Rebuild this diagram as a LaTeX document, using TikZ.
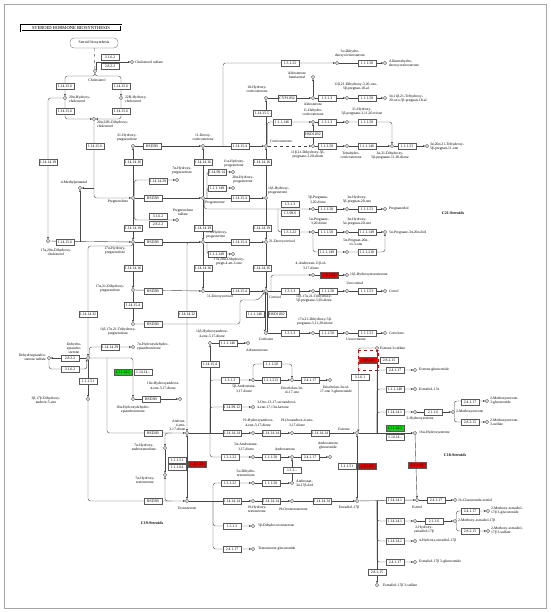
\documentclass[tikz,border=0pt]{standalone}
\usepackage{fontspec}
\setmainfont{Liberation Serif}
\usetikzlibrary{arrows.meta}
\definecolor{kred}{RGB}{225,0,0}
\definecolor{kgreen}{RGB}{0,215,0}
\definecolor{kline}{RGB}{70,70,70}
\pgfdeclarelayer{bg}
\pgfsetlayers{bg,main}
\newcounter{ecn}\newcounter{lbn}
\newcommand\ecb[3][]{\stepcounter{ecn}\node[ec,#1] (E\theecn) at (#2) {#3};}
\newcommand\cp[2]{\node[cpd] (#1) at (#2) {};}
\newcommand\lab[3][]{\stepcounter{lbn}\node[lb,#1] (L\thelbn) at (#2) {#3};}
\begin{document}
\begin{tikzpicture}[x=1pt,y=-1pt,line width=0.25pt,
 ec/.style={draw=black!65,fill=white,line width=0.25pt,inner sep=0.2pt,minimum width=17.5pt,minimum height=5.8pt,font=\fontsize{3.8}{4}\selectfont},
 cpd/.style={circle,draw=black!80,fill=white,minimum size=3.3pt,inner sep=0pt,line width=0.3pt},
 lb/.style={font=\fontsize{3.7}{4.1}\selectfont,inner sep=0pt,align=center},
 arr/.style={draw=kline,-{Stealth[length=2.4pt,width=2.2pt]}},
 darr/.style={draw=kline,{Stealth[length=2.4pt,width=2.2pt]}-{Stealth[length=2.4pt,width=2.2pt]}},
 rc/.style={rounded corners=2.5pt},
 cls/.style={font=\bfseries\fontsize{4}{4.3}\selectfont,inner sep=0pt}]
\useasboundingbox (0,0) rectangle (550,612);
\draw[gray!70,line width=0.6pt] (4,4) rectangle (546,608);
\node[draw,double,double distance=0.8pt,line width=0.35pt,inner sep=1.5pt,minimum width=100pt,font=\fontsize{4.6}{5}\selectfont] (title) at (71,28) {STEROID HORMONE BIOSYNTHESIS};
\node[draw=black!70,rounded corners=4pt,minimum width=48pt,minimum height=10pt,inner sep=0.5pt,font=\fontsize{3.8}{4}\selectfont] (sb) at (94,43) {Steroid biosynthesis};

% ---- cholesterol
\cp{chol}{95,71} \lab{97,80}{Cholesterol}
\ecb{110,57}{3.1.6.2} \ecb{110,66}{2.8.2.2}
\cp{chsul}{132,62} \lab[anchor=west]{135,62}{Cholesterol sulfate}
\ecb{65,86}{1.14.15.6} \ecb{121,86}{1.14.15.6}
\cp{ch20a}{65,98} \lab[anchor=west,align=left]{69,99}{20α-Hydroxy-\\cholesterol}
\cp{ch22r}{121,98} \lab[anchor=west,align=left]{125,99}{22R-Hydroxy-\\cholesterol}
\ecb{65,111}{1.14.15.6} \ecb{121,111}{1.14.15.6}
\cp{ch2022}{94,119} \lab[anchor=west,align=left]{97,124}{20α,22R-Dihydroxy-\\cholesterol}
\ecb{95,146}{1.14.15.6}
\ecb{48,162}{1.14.14.19}
\cp{ch1720}{48,241} \lab{56,252}{17α,20α-Dihydroxy-\\cholesterol}
\ecb{65,242}{1.14.15.6}
\cp{mpent}{80,188} \lab{74,183}{4-Methylpentanal}

% ---- pregnenolone column
\cp{preg}{133,198} \lab{118,202}{Pregnenolone}
\cp{h21preg}{133,146} \lab{127,138}{21-Hydroxy-\\pregnenolone}
\ecb{133,162}{1.14.14.16}
\ecb{152,146}{HSD3B}
\cp{doc}{203,146} \lab{203,137}{11-Deoxy-\\corticosterone}
\ecb{158,181}{1.14.14.29} \cp{h7apreg}{177,180} \lab{182,171}{7α-Hydroxy-\\pregnenolone}
\ecb{158,216}{3.1.6.2} \ecb{158,224}{2.8.2.2}
\cp{pregs}{177,220} \lab{183,212}{Pregnenolone\\sulfate}
\ecb{153,198}{HSD3B}
\cp{prog}{203,198} \lab{215,203}{Progesterone}
\ecb{133,228}{1.14.14.19}
\cp{h17preg}{133,242} \lab{115,251}{17α-Hydroxy-\\pregnenolone}
\ecb{153,242}{HSD3B}
\cp{h17prog}{203,242} \lab[anchor=west,align=left]{206,235}{17α-Hydroxy-\\progesterone}
\ecb{133,268}{1.14.14.16}
\cp{h1721preg}{133,290} \lab{110,289}{17α,21-Dihydroxy-\\pregnenolone}
\ecb{153,291}{HSD3B}
\cp{doxf}{203,291} \lab{220,297}{11-Deoxycortisol}
\ecb{133,305}{1.14.15.4}
\cp{h111721}{133,324} \lab{118,332}{11β,17α,21-Trihydroxy-\\pregnenolone}
\ecb{153,324}{HSD3B}

% ---- progesterone / corticoids
\ecb{203,162}{1.14.14.16} \ecb{203,228}{1.14.14.19} \ecb{203,268}{1.14.14.16}
\ecb{217,172}{1.14.99.14} \cp{h11aprog}{233,172} \lab{234,164}{11α-Hydroxy-\\progesterone}
\ecb{217,188}{1.1.1.149} \cp{h20aprog}{233,188} \lab{243,180}{20α-Hydroxy-\\progesterone}
\ecb{217,254}{1.1.1.149} \cp{h1720prog}{233,254} \lab{229,262}{17α,20α-Dihydroxy-\\pregn-4-en-3-one}
\ecb{240,146}{1.14.15.4} \cp{corticost}{266,146} \lab[anchor=west]{270,141}{Corticosterone}
\ecb{240,198}{1.14.15.4} \cp{h11bprog}{266,198} \lab[anchor=west,align=left]{268,191}{11β-Hydroxy-\\progesterone}
\ecb{262,162}{1.14.14.16} \ecb{262,228}{1.14.14.19}
\ecb{240,242}{1.14.15.4} \cp{d21cortisol}{266,242} \lab[anchor=west]{269,242}{21-Deoxycortisol}
\ecb{262,268}{1.14.14.16}
\ecb{240,291}{1.14.15.4} \cp{cortisol}{266,291} \lab[anchor=west]{269,297}{Cortisol}
\ecb{255,314}{1.1.1.146} \ecb{277,314}{HSD11B2}
\cp{cortisone}{266,333} \lab{266,339}{Cortisone}

% ---- top right corticoids
\ecb{262,113}{1.14.15.5} \cp{h18cort}{266,98} \lab{257,89}{18-Hydroxy-\\corticosterone}
\ecb{287,98}{CYP11B2} \cp{aldo}{313,98} \lab{313,104}{Aldosterone}
\cp{aldohemi}{313,77} \lab{297,75}{Aldosterone\\hemiacetal}
\ecb{327,98}{1.3.1.3} \cp{a5b}{347,98} \lab{356,87}{11β,21-Dihydroxy-3,20-oxo-\\5β-pregnan-18-al}
\ecb{367,98}{1.1.1.50} \cp{a3a}{385,98} \lab[anchor=west,align=left]{389,99}{3α,11β,21-Trihydroxy-\\20-oxo-5β-pregnan-18-al}
\ecb{282,122}{1.1.1.146} \cp{dhcort}{313,122} \lab{313,112}{11-Dehydro-\\corticosterone}
\ecb{313,134}{HSD11B2}
\ecb{327,122}{1.3.1.3} \cp{h21trione}{347,122} \lab{362,112}{21-Hydroxy-\\5β-pregnane-3,11,20-trione}
\ecb{367,122}{1.1.1.50}
\cp{c5bcort}{313,146} \lab{308,155}{11β,21-Dihydroxy-5β-\\pregnane-3,20-dione}
\ecb{327,146}{1.1.1.50} \cp{thb}{347,146} \lab{351,155}{Tetrahydro-\\corticosterone}
\ecb{367,146}{1.1.1.146} \cp{c3a21}{392,146} \lab{390,156}{3α,21-Dihydroxy-\\5β-pregnane-11,20-dione}
\ecb{407,146}{1.1.1.53} \cp{c3a20a}{427,146} \lab[anchor=west,align=left]{430,147}{3α,20α,21-Trihydroxy-\\5β-pregnan-11-one}
\ecb{290,63}{1.3.1.22} \cp{dhdoc}{337,63} \lab{350,54}{5α-Dihydro-\\deoxycorticosterone}
\ecb{367,63}{1.1.1.50} \cp{athdoc}{385,63} \lab[anchor=west,align=left]{389,64}{Allotetrahydro-\\deoxycorticosterone}

% ---- C21 right
\ecb{290,204.5}{1.3.1.3} \ecb{290,213.5}{1.3.99.6}
\cp{p5b}{313,209} \lab{318,200}{5β-Pregnane-\\3,20-dione}
\ecb{327,209}{1.1.1.50} \cp{p3a5b}{347,209} \lab{357,200}{3α-Hydroxy-\\5β-pregnan-20-one}
\ecb{367,209}{1.1.1.53} \cp{pregnanediol}{385,209} \lab[anchor=west]{389,209}{Pregnanediol}
\ecb{290,232}{1.3.1.22} \cp{p5a}{313,232} \lab{319,222}{5α-Pregnane-\\3,20-dione}
\ecb{327,232}{1.1.1.50} \cp{p3a5a}{347,232} \lab{357,222}{3α-Hydroxy-\\5α-pregnan-20-one}
\ecb{367,232}{1.1.1.149} \cp{p5adiol}{385,232} \lab[anchor=west]{389,233}{5α-Pregnane-3α,20α-diol}
\ecb{327,252}{1.1.1.149} \cp{p20a5a}{347,252} \lab{356,242}{5α-Pregnan-20α-\\ol-3-one}
\ecb{367,252}{1.1.1.210}
\cp{a11bol}{313,275} \lab{311,266}{4-Androsten-11β-ol-\\3,17-dione}
\ecb[fill=kred]{329,275}{1.1.1.62} \cp{t11boh}{347,275} \lab[anchor=west]{350,275}{11β-Hydroxytestosterone}
\ecb{290,291}{1.3.1.3} \cp{c5bF}{313,291} \lab{314,299}{11β,17α,21-Trihydroxy-\\5β-pregnane-3,20-dione}
\ecb{328,291}{1.1.1.50} \cp{urocortisol}{347,291} \lab{355,283}{Urocortisol}
\ecb{367,291}{1.1.1.53} \cp{cortol}{385,291} \lab[anchor=west]{389,291}{Cortol}
\ecb{290,333}{1.3.1.3} \cp{c5bE}{313,333} \lab{315,322}{17α,21-Dihydroxy-5β-\\pregnane-3,11,20-trione}
\ecb{328,333}{1.1.1.50} \cp{urocortisone}{347,333} \lab{356,339}{Urocortisone}
\ecb{367,333}{1.1.1.53} \cp{cortolone}{385,333} \lab[anchor=west]{389,333}{Cortolone}

% ---- C19
\ecb{187,314}{1.14.14.32}
\cp{andro}{187,433} \lab[anchor=south east,align=right]{185.5,431}{Androst-\\4-ene-\\3,17-dione}
\ecb{153,433}{HSD3B}
\ecb{88,314}{1.14.14.32}
\cp{dhea}{88,358} \lab{74,348}{Dehydro-\\epiandro-\\sterone}
\ecb{70,358}{2.8.2.2} \ecb{70,369}{3.1.6.2}
\cp{dheas}{49,358} \lab[anchor=east,align=right]{46,357}{Dehydroepiandro-\\sterone sulfate}
\ecb{110,347}{1.14.14.29} \cp{h7adhea}{133,347} \lab[anchor=west,align=left]{137,347}{7α-Hydroxydehydro-\\epiandrosterone}
\ecb[fill=kgreen]{123,372}{1.14.14.1} \ecb{143,372}{1.14.14.-}
\cp{h16adhea}{133,399} \lab{133,410}{16α-Hydroxydehydro-\\epiandrosterone}
\ecb{151,399}{HSD3B} \cp{h16aA4}{180,399} \lab{163,386}{16α-Hydroxyandrost-\\4-ene-3,17-dione}
\ecb{88,381}{1.1.1.51}
\cp{adiol}{88,399} \lab{46,400}{3β,17β-Dihydroxy-\\androst-5-ene}
\ecb{153,501}{HSD3B}
\cp{testo}{187,501} \lab{187,508}{Testosterone}
\cp{h7aA4}{165,448} \lab{144,447}{7α-Hydroxy-\\androstenedione}
\cp{h7aT}{165,475} \lab{145,480}{7α-Hydroxy-\\testosterone}
\ecb{177,460}{1.1.1.51} \ecb{177,467}{1.1.1.64} \ecb[fill=kred]{197,464}{1.1.1.62}
\cp{h11bA4}{210,343} \lab{212,334}{11β-Hydroxyandrost-\\4-ene-3,17-dione}
\ecb{210,364}{1.14.15.4}
\ecb{228,343}{1.1.1.146} \cp{adrenost}{248,343} \lab{257,350}{Adrenosterone}
\ecb{230,380}{1.3.1.3} \cp{a5bdione}{253,380} \lab{244,389}{5β-Androstane-\\3,17-dione}
\ecb{271,380}{1.1.1.213} \ecb{272,364}{1.1.1.50}
\cp{etio}{292,380} \lab{292,390}{Etiocholan-3α-\\ol-17-one}
\ecb{310,380}{2.4.1.17} \cp{etiogluc}{330,380} \lab{336,390}{Etiocholan-3α-ol-\\17-one 3-glucuronide}
\ecb{232,407}{1.14.99.12} \cp{testolac}{253,407} \lab[anchor=west,align=left]{257,405}{3-Oxo-13,17-secoandrost-\\4-ene-17,13α-lactone}
\ecb{232,433}{1.14.14.14} \cp{h19A4}{253,433} \lab{258,423}{19-Hydroxyandrost-\\4-ene-3,17-dione}
\ecb{271,433}{1.14.14.14} \cp{oxo19A4}{292,433} \lab{297,423}{19-Oxoandrost-4-ene-\\3,17-dione}
\ecb{320,433}{1.14.14.14} \cp{estrone}{357,433} \lab{344,429}{Estrone}
\ecb{230,457}{1.3.1.22} \cp{a5adione}{253,457} \lab{246,447}{5α-Androstane-\\3,17-dione}
\ecb{271,457}{1.1.1.50} \cp{andrst}{292,457} \lab{285,449}{Androsterone}
\ecb{310,457}{2.4.1.17} \cp{andrgluc}{330,457} \lab{328,446}{Androsterone\\glucuronide}
\ecb{230,483}{1.3.1.22} \cp{dht}{253,483} \lab{246,473}{5α-Dihydro-\\testosterone}
\ecb{271,483}{1.1.1.50} \cp{adiol3a}{292,483} \lab[anchor=west,align=left]{296,484}{Androstan-\\3α,17β-diol}
\ecb{292,470}{1.1.1.-}
\ecb{232,501}{1.14.14.14} \cp{h19T}{253,501} \lab{257,509}{19-Hydroxy-\\testosterone}
\ecb{271,501}{1.14.14.14} \cp{oxo19T}{292,501} \lab{293,509}{19-Oxotestosterone}
\ecb{322,501}{1.14.14.14} \cp{estradiol}{357,501} \lab{349,508}{Estradiol-17β}
\ecb{232,526}{1.3.1.3} \cp{h5bT}{253,526} \lab[anchor=west]{258,526}{5β-Dihydro-testosterone}
\ecb{232,549}{2.4.1.17} \cp{tgluc}{253,549} \lab[anchor=west]{258,549}{Testosterone glucuronide}

% ---- C18
\ecb{347,466}{1.1.1.51} \ecb[fill=kred]{367,466}{1.1.1.62}
\cp{e3s}{377,348} \lab[anchor=west]{380,348}{Estrone 3-sulfate}
\ecb[fill=kred]{368,360}{2.8.2.4} \ecb{389,360}{2.8.2.15} \ecb{360,377}{3.1.6.1}
\draw[kred,dashed,line width=0.7pt] (358.5,350) rectangle (378.5,370);
\ecb{395,370}{2.4.1.17} \cp{e1gluc}{415,370} \lab[anchor=west]{419,370}{Estrone glucuronide}
\ecb{395,389}{1.1.1.148} \cp{e2a}{415,389} \lab[anchor=west]{419,389}{Estradiol-17α}
\ecb{395,412}{1.14.14.1} \cp{oh2e1}{415,412} \lab{420,419}{2-Hydroxyestrone}
\ecb{433,412}{2.1.1.6} \cp{meo2e1}{453,412} \lab[anchor=west]{456,412}{2-Methoxyestrone}
\ecb{470,402}{2.4.1.17} \cp{meo2e1g}{487,401} \lab[anchor=west,align=left]{490,401}{2-Methoxyestrone-\\3-glucuronide}
\ecb{470,422}{2.8.2.15} \cp{meo2e1s}{487,422} \lab[anchor=west,align=left]{490,422}{2-Methoxyestrone-\\3-sulfate}
\ecb[fill=kgreen]{395,428}{1.14.14.1} \ecb{395,437}{1.14.14.-}
\cp{oh16e1}{415,433} \lab[anchor=west]{419,433}{16α-Hydroxyestrone}
\ecb[fill=kred]{417,465}{1.1.1.62}
\cp{estriol}{417,500} \lab{417,507}{Estriol}
\ecb{395,500}{1.14.14.1}
\ecb{436,500}{2.4.1.17} \cp{glucest}{455,500} \lab[anchor=west]{458,500}{16-Glucuronide-estriol}
\ecb{395,521}{1.14.14.1} \cp{oh2e2}{415,521} \lab{424,530}{2-Hydroxy-\\estradiol-17β}
\ecb{434,521}{2.1.1.6} \cp{meo2e2}{455,521} \lab[anchor=west]{458,521}{2-Methoxy-estradiol-17β}
\ecb{470,511}{2.4.1.17} \cp{meo2e2g}{488,511} \lab[anchor=west,align=left]{491,511}{2-Methoxy-estradiol-\\17β 3-glucuronide}
\ecb{470,531}{2.8.2.15} \cp{meo2e2s}{488,531} \lab[anchor=west,align=left]{491,531}{2-Methoxy-estradiol-\\17β 3-sulfate}
\ecb{395,541}{1.14.14.1} \cp{oh4e2}{415,541} \lab[anchor=west]{419,541}{4-Hydroxy-estradiol-17β}
\ecb{395,562}{2.4.1.17} \cp{e2gluc}{415,562} \lab[anchor=west]{419,562}{Estradiol-17β 3-glucuronide}
\ecb{377,572}{2.8.2.15} \cp{e2s}{377,585} \lab[anchor=west]{383,586}{Estradiol-17β 3-sulfate}

\node[cls] (c21) at (453,213) {C21-Steroids};
\node[cls] (c18) at (455,455) {C18-Steroids};
\node[cls] (c19) at (152,523) {C19-Steroids};

\begin{pgfonlayer}{bg}
\draw[dashed,draw=kline] (sb) -- (chol);
\draw[arr] (chol.north east) |- (chsul);
\draw[arr,rc] (chol.south) |- (65,76) -- (ch20a);
\draw[arr,rc] (chol.south) |- (121,76) -- (ch22r);
\draw[arr,rc] (ch20a) |- (ch2022);
\draw[arr,rc] (ch22r) |- (ch2022);
\draw[arr,rc] (ch20a) -| (ch1720);
\draw[arr,rc] (ch2022) |- (preg);
\draw[arr] (94,188) -- (mpent);
\draw[arr] (ch1720) -- (h17preg);
\draw[arr] (80,242) -- (mpent);
\draw[arr] (preg) -- (h21preg);
\draw[arr] (h21preg) -- (doc);
\draw[arr,rc] (preg.north east) |- (h7apreg);
\draw[arr,rc] (preg.south east) |- (pregs);
\draw[arr] (preg) -- (prog);
\draw[arr] (preg) -- (h17preg);
\draw[arr] (h17preg) -- (h17prog);
\draw[arr] (h17preg) -- (h1721preg);
\draw[arr] (h1721preg) -- (doxf);
\draw[arr] (h1721preg) -- (h111721);
\draw[arr,rc] (h111721) -- (240,324) |- (258,300) -- (cortisol.south west);
\draw[arr,rc] (h17preg.south) |- (88,246) -- (dhea);
\draw[arr] (prog) -- (doc);
\draw[arr] (prog) -- (h17prog);
\draw[arr] (h17prog) -- (doxf);
\draw[arr,rc] (207,198) |- (h11aprog);
\draw[arr,rc] (207,198) |- (h20aprog);
\draw[arr,rc] (207,242) |- (h1720prog);
\draw[arr] (doc) -- (corticost);
\draw[arr] (prog) -- (h11bprog);
\draw[arr] (h11bprog) -- (corticost);
\draw[arr] (h17prog) -- (d21cortisol);
\draw[arr] (h11bprog) -- (d21cortisol);
\draw[arr] (doxf) -- (cortisol);
\draw[arr] (d21cortisol) -- (cortisol);
\draw[arr] (cortisol.south west) -- (cortisone.north west);
\draw[arr] (cortisone.north east) -- (cortisol.south east);
\draw[arr] (corticost) -- (h18cort);
\draw[arr] (h18cort) -- (aldo);
\draw[arr] (aldo) -- (aldohemi);
\draw[arr] (aldo) -- (a5b);
\draw[arr] (a5b) -- (a3a);
\draw[arr,rc] (corticost.north east) |- (dhcort);
\draw[arr] (c5bcort) -- (dhcort);
\draw[arr] (dhcort) -- (h21trione);
\draw[arr,rc] (h21trione) -| (c3a21);
\draw[arr,dashed] (corticost) -- (c5bcort);
\draw[arr] (c5bcort) -- (thb);
\draw[arr] (thb) -- (c3a21);
\draw[arr] (c3a21) -- (c3a20a);
\draw[arr,rc] (223,146) |- (dhdoc);
\draw[arr] (dhdoc) -- (athdoc);
\draw[arr,rc] (prog.south east) |- (p5b);
\draw[arr] (p5b) -- (p3a5b);
\draw[arr] (p3a5b) -- (pregnanediol);
\draw[arr,rc] (278,209) |- (p5a);
\draw[arr] (p5a) -- (p3a5a);
\draw[arr] (p3a5a) -- (p5adiol);
\draw[arr,rc] (p5a) |- (p20a5a);
\draw[arr,rc] (p20a5a) -| (p5adiol);
\draw[arr] (cortisol) -- (c5bF);
\draw[arr] (c5bF) -- (urocortisol);
\draw[arr] (urocortisol) -- (cortol);
\draw[arr] (cortisone) -- (c5bE);
\draw[arr] (c5bE) -- (urocortisone);
\draw[arr] (urocortisone) -- (cortolone);
\draw[arr,rc] (271,291) |- (a11bol);
\draw[arr] (a11bol) -- (t11boh);
\draw[arr,rc] (h17prog) -| (andro);
% DHEA
\draw[arr] (dhea) -- (dheas);
\draw[arr,rc] (dheas) |- (86.9,369) -- (dhea.south west);
\draw[arr,rc] (dhea.north east) |- (h7adhea);
\draw[arr,rc] (dhea) -| (h16adhea);
\draw[arr,rc] (107,358) |- (andro);
\draw[arr] (h16adhea) -- (h16aA4);
\draw[arr] (dhea) -- (adiol);
\draw[arr,rc] (adiol) |- (testo);
\draw[darr] (andro) -- (testo);
\draw[arr,rc] (172,433) -| (h7aA4);
\draw[arr] (h7aA4) -- (h7aT);
\draw[arr,rc] (172,501) -| (h7aT);
\draw[arr] (210,433) -- (h11bA4);
\draw[arr,rc] (210,433) |- (a5bdione);
\draw[arr,rc] (210,433) |- (testolac);
\draw[arr,rc] (210,433) |- (a5adione);
\draw[arr] (h11bA4) -- (adrenost);
\draw[arr] (andro) -- (h19A4);
\draw[arr] (h19A4) -- (oxo19A4);
\draw[arr] (oxo19A4) -- (estrone);
\draw[arr] (a5adione) -- (andrst);
\draw[arr] (andrst) -- (andrgluc);
\draw[arr] (a5bdione) -- (etio);
\draw[arr] (etio) -- (etiogluc);
\draw[arr,rc] (a5bdione) |- (292,364) -- (etio);
\draw[arr,rc] (213,501) |- (dht);
\draw[arr,rc] (213,501) |- (h5bT);
\draw[arr,rc] (213,501) |- (tgluc);
\draw[arr] (testo) -- (h19T);
\draw[arr] (h19T) -- (oxo19T);
\draw[arr] (oxo19T) -- (estradiol);
\draw[arr] (dht) -- (adiol3a);
\draw[arr] (adiol3a) -- (andrst);
% estrogens
\draw[darr] (estrone) -- (estradiol);
\draw[arr] (estrone) -- (oh16e1);
\draw[arr] (377,433) -- (e3s);
\draw[arr,rc] (e3s.west) -| (estrone.north east);
\draw[arr,rc] (377,433) |- (e1gluc);
\draw[arr,rc] (377,433) |- (e2a);
\draw[arr,rc] (377,433) |- (oh2e1);
\draw[arr] (oh2e1) -- (meo2e1);
\draw[arr,rc] (meo2e1.north east) |- (meo2e1g);
\draw[arr,rc] (meo2e1.south east) |- (meo2e1s);
\draw[arr] (oh16e1) -- (estriol);
\draw[arr] (estradiol) -- (estriol);
\draw[arr] (estriol) -- (glucest);
\draw[arr,rc] (377,501) |- (oh2e2);
\draw[arr] (oh2e2) -- (meo2e2);
\draw[arr,rc] (meo2e2.north east) |- (meo2e2g);
\draw[arr,rc] (meo2e2.south east) |- (meo2e2s);
\draw[arr,rc] (377,501) |- (oh4e2);
\draw[arr,rc] (377,501) |- (e2gluc);
\draw[arr] (377,501) -- (e2s);
\end{pgfonlayer}
\end{tikzpicture}
\end{document}
